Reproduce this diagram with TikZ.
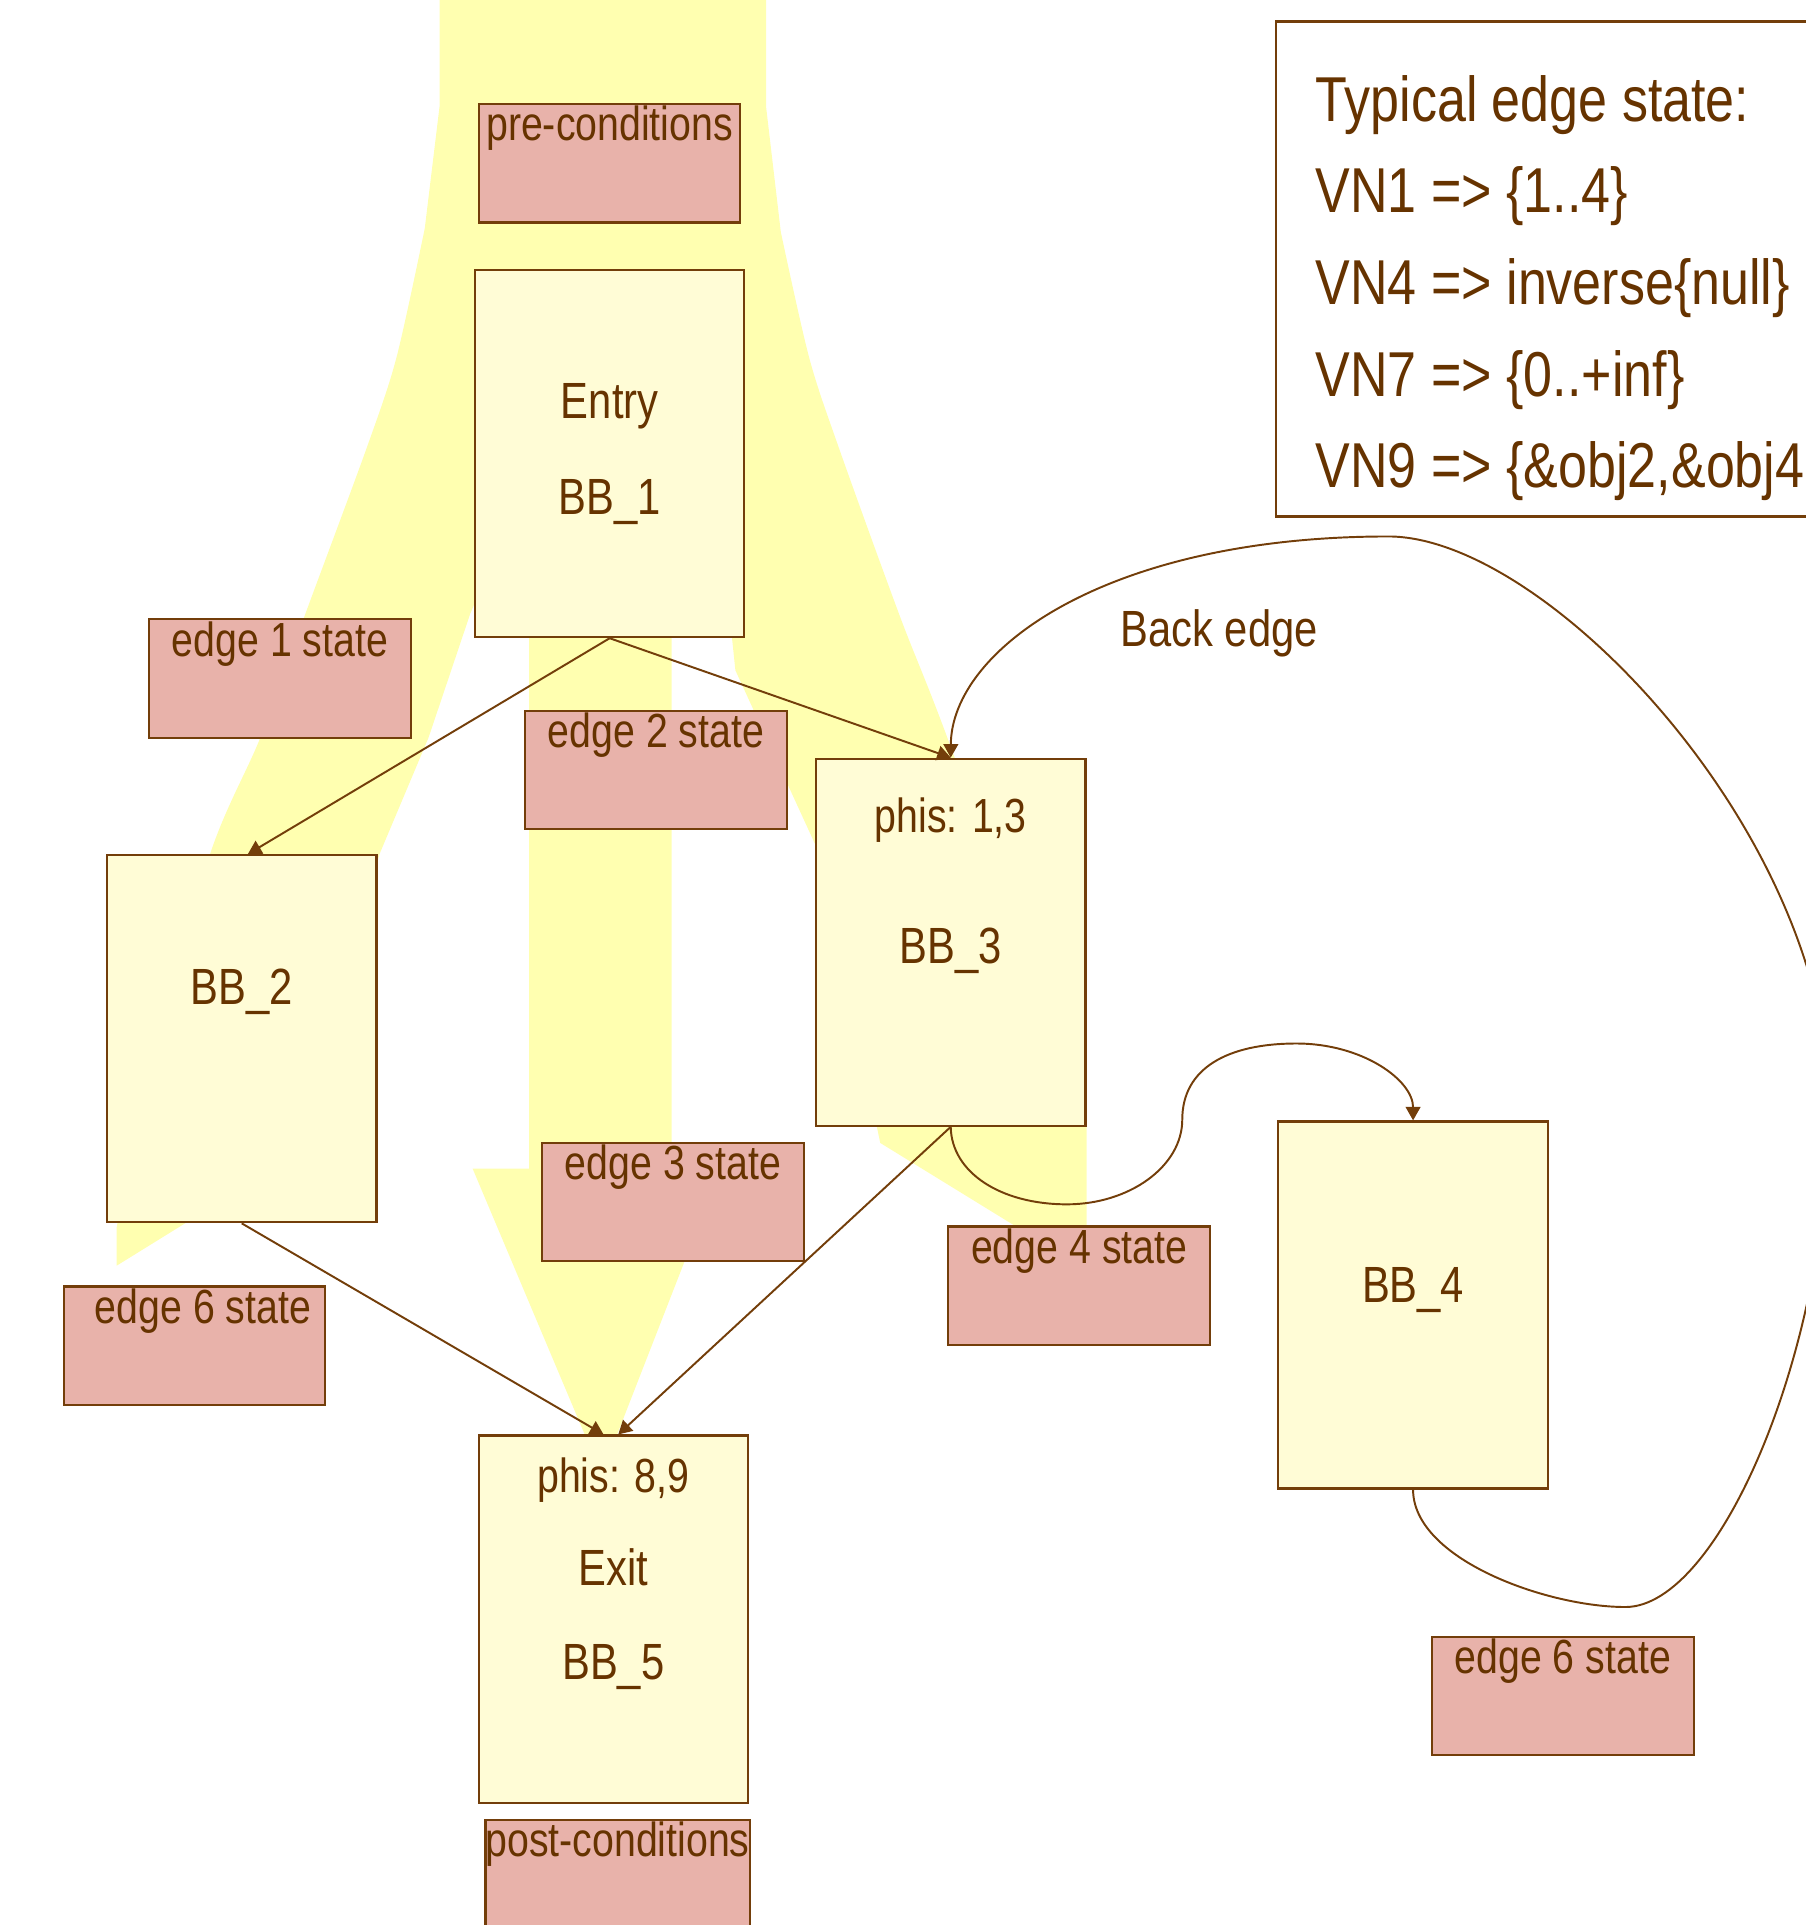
\documentclass[tikz,border=0pt]{standalone}
\usepackage{fontspec}
\setmainfont{Liberation Sans}[FakeStretch=0.82]
\usetikzlibrary{arrows.meta}

\definecolor{flowyellow}{RGB}{255,255,176}
\definecolor{boxfill}{RGB}{255,252,214}
\definecolor{statepink}{RGB}{232,178,170}
\definecolor{linebrown}{RGB}{115,62,10}
\definecolor{textbrown}{RGB}{102,51,0}

\newcommand\statefont{\fontsize{11.1pt}{13pt}\selectfont}
\newcommand\blockfont{\fontsize{11.8pt}{14pt}\selectfont}
\newcommand\legendfont{\fontsize{14.7pt}{18pt}\selectfont}

\tikzset{
  block/.style={draw=linebrown, fill=boxfill, line width=0.5pt,
    minimum width=2.195cm, minimum height=2.99cm, inner sep=0pt},
  statebox/.style={draw=linebrown, fill=statepink, line width=0.5pt,
    text=textbrown, font=\statefont, minimum width=2.13cm, inner sep=0pt,
    text height=0.3cm, text depth=0.665cm},
  blocktext/.style={text=textbrown, font=\blockfont, inner sep=0pt, anchor=base},
  phitext/.style={blocktext, font=\statefont},
  legendtext/.style={text=textbrown, font=\legendfont, inner sep=0pt, anchor=base west},
  cfgedge/.style={draw=linebrown, line width=0.45pt, -{Triangle[length=1.1mm, width=1.2mm]}},
}

\begin{document}
\begin{tikzpicture}
        \useasboundingbox (0,0) rectangle (14.71,15.68);

        % flow of facts through the graph
        \fill [flowyellow] (3.58,15.8) -- (3.58,14.81) -- (3.46,13.82)
          -- plot [smooth, tension=0.5] coordinates {(3.46,13.82) (3.23,12.77) (2.99,12.04)
               (2.48,10.66) (2.12,9.67) (1.71,8.72) (1.20,6.9) (0.95,5.68)}
          -- (0.95,5.37) -- (2.50,6.33) -- (3.09,8.72) -- (3.49,9.67) -- (3.83,10.68)
          -- (4.00,11.08) -- (4.31,11.08)
          -- (4.31,6.16) -- (3.85,6.16) -- (4.90,3.67) -- (5.87,6.16) -- (5.47,6.16)
          -- (5.47,11.08) -- (5.90,11.08)
          -- (5.99,10.22) -- (6.65,8.78) -- (7.00,7.18) -- (7.17,6.37)
          -- (8.60,5.49) -- (8.85,5.38) -- (8.85,6.52)
          -- plot [smooth, tension=0.5] coordinates {(8.85,6.52) (7.75,9.58) (7.33,10.66)
               (6.83,12.04) (6.59,12.77) (6.36,13.79)}
          -- (6.24,14.81) -- (6.24,15.8) -- cycle;

        % basic blocks
        \node [block] (bb1) at (4.966,11.985) {};
        \node [block] (bb2) at (1.969,7.219) {};
        \node [block] (bb3) at (7.744,8.005) {};
        \node [block] (bb4) at (11.51,5.05) {};
        \node [block] (bb5) at (4.996,2.492) {};

        \node [blocktext] (bb1-name) at ([yshift=-1.218cm]bb1.north) {Entry};
        \node [blocktext] (bb1-id) at ([yshift=-2.0cm]bb1.north) {BB\_1};
        \node [blocktext] (bb2-id) at ([yshift=-1.225cm]bb2.north) {BB\_2};
        \node [phitext] (bb3-phi) at ([yshift=-0.607cm]bb3.north) {phis: 1,3};
        \node [blocktext] (bb3-id) at ([yshift=-1.677cm]bb3.north) {BB\_3};
        \node [blocktext] (bb4-id) at ([yshift=-1.484cm]bb4.north) {BB\_4};
        \node [phitext] (bb5-phi) at ([yshift=-0.474cm]bb5.north) {phis: 8,9};
        \node [blocktext] (bb5-name) at ([yshift=-1.227cm]bb5.north) {Exit};
        \node [blocktext] (bb5-id) at ([yshift=-2.0cm]bb5.north) {BB\_5};

        % state attached to each edge
        \node [statebox] (pre) at (4.965,14.35) {pre-conditions};
        \node [statebox] (e1) at (2.281,10.152) {edge 1 state};
        \node [statebox] (e2) at (5.343,9.407) {edge 2 state};
        \node [statebox] (e3) at (5.482,5.888) {edge 3 state};
        \node [statebox] (e4) at (8.79,5.207) {edge 4 state};
        \node [statebox] (e6a) at (1.583,4.718) {\hspace{0.14cm}edge 6 state};
        \node [statebox] (e6b) at (12.73,1.865) {edge 6 state};
        \node [statebox] (post) at (5.03,0.374) {post-conditions};

        % legend
        \node [draw=linebrown, line width=0.5pt, minimum width=4.81cm, minimum height=4.032cm,
               inner sep=0pt] (legend) at (12.795,13.489) {};
        \node [legendtext] (leg0) at (10.71,14.691) {Typical edge state:};
        \node [legendtext] (leg1) at (10.71,13.945) {VN1 => \{1..4\}};
        \node [legendtext] (leg2) at (10.71,13.197) {VN4 => inverse\{null\}};
        \node [legendtext] (leg3) at (10.71,12.45) {VN7 => \{0..+inf\}};
        \node [legendtext] (leg4) at (10.71,11.71) {VN9 => \{\&obj2,\&obj4};

        \node [blocktext, anchor=base west] (backlbl) at (9.12,10.415) {Back edge};

        % control flow edges
        \draw [cfgedge] (bb1.south) -- ([xshift=0.05cm]bb2.north);
        \draw [cfgedge] (bb1.south) -- (bb3.north);
        \draw [cfgedge] (bb2.south) -- ([xshift=-0.08cm]bb5.north);
        \draw [cfgedge] (bb3.south) -- ([xshift=0.04cm]bb5.north);
        \draw [cfgedge] (bb3.south) .. controls (7.75,6.13) and (8.15,5.87) .. (8.69,5.87)
          .. controls (9.20,5.87) and (9.63,6.18) .. (9.63,6.56)
          .. controls (9.63,6.98) and (10.00,7.18) .. (10.56,7.18)
          .. controls (11.10,7.18) and (11.51,6.88) .. (bb4.north);
        \draw [cfgedge] (bb4.south) .. controls (11.51,2.98) and (12.60,2.59) .. (13.24,2.59)
          .. controls (14.00,2.59) and (14.90,4.68) .. (14.90,6.68)
          .. controls (14.90,8.88) and (12.60,11.31) .. (11.31,11.31)
          .. controls (9.00,11.31) and (7.75,10.38) .. (bb3.north);
      \end{tikzpicture}
\end{document}
